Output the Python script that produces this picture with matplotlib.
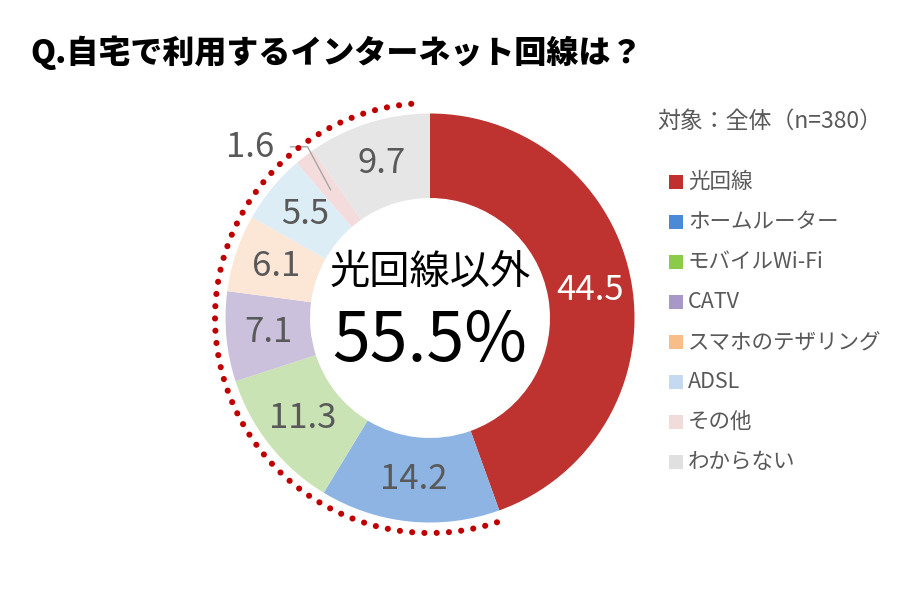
import matplotlib
matplotlib.use("Agg")
import matplotlib.pyplot as plt
import numpy as np
from matplotlib.patches import Rectangle

plt.rcParams["font.family"] = ["Noto Sans CJK JP", "DejaVu Sans"]

# Data
categories = ["光回線", "ホームルーター", "モバイルWi-Fi", "CATV",
              "スマホのテザリング", "ADSL", "その他", "わからない"]
values = [44.5, 14.2, 11.3, 7.1, 6.1, 5.5, 1.6, 9.7]
slice_colors = ["#BE3230", "#8DB4E2", "#C9E3B4", "#CBC1DC",
                "#FCE6D6", "#DCEDF6", "#F4DCDD", "#E6E6E6"]
legend_colors = ["#C0302E", "#4A8AD6", "#8CCB4A", "#A898C8",
                 "#F8BE8A", "#C5D9F1", "#F2DCDB", "#E0E0E0"]
label_colors = ["white"] + ["#595959"] * 7
title = "Q.自宅で利用するインターネット回線は？"
center_label = "光回線以外"
other_share = 100 - values[0]
subtitle = "対象：全体（n=380）"

W, H = 922, 600


def py(y):
    # pixel row (from top) -> data y
    return H - y


fig = plt.figure(figsize=(W / 100, H / 100), dpi=100)
ax = fig.add_axes([0, 0, 1, 1])

cx, cy = 430, py(318)
r_out, r_in = 204.5, 120

wedges, _ = ax.pie(values, colors=slice_colors, startangle=90, counterclock=False,
                   radius=r_out, center=(cx, cy),
                   wedgeprops=dict(width=r_out - r_in, linewidth=0))

ax.set_xlim(0, W)
ax.set_ylim(0, H)
ax.set_aspect("equal")
ax.axis("off")

# slice labels
r_mid = (r_out + r_in) / 2
for w, v, c in zip(wedges, values, label_colors):
    ang = np.deg2rad((w.theta1 + w.theta2) / 2)
    x = cx + r_mid * np.cos(ang)
    y = cy + r_mid * np.sin(ang)
    if v < 3:
        # small slice: label outside with leader line
        ax.plot([x, x - 23, x - 40], [y, y + 43, y + 43], color="#A6A6A6", lw=1)
        ax.text(x - 56, y + 42, f"{v:.1f}", ha="right", va="center",
                fontsize=25, color=c)
    else:
        ax.text(x, y, f"{v:.1f}", ha="center", va="center", fontsize=25, color=c)

# dotted arc over the non-光回線 share
r_dot = 215
th = np.deg2rad(np.linspace(95, 90 + 360 * other_share / 100, 400))
ax.plot(cx + r_dot * np.cos(th), cy + r_dot * np.sin(th), color="#C00000",
        lw=4.4, linestyle=(0, (0.01, 2.0)), dash_capstyle="round")

# center text
ax.text(cx, py(272), center_label, ha="center", va="center", fontsize=29, color="black")
ax.text(cx, py(342), f"{other_share:.1f}%", ha="center", va="center",
        fontsize=49, color="black")

# title
ax.text(30, py(53), title, ha="left", va="center", fontsize=23,
        fontweight="heavy", color="black")

# legend
ax.text(657, py(121), subtitle, ha="left", va="center", fontsize=16.5, color="#595959")
for i, (name, col) in enumerate(zip(categories, legend_colors)):
    yy = py(182 + 40 * i)
    ax.add_patch(Rectangle((669, yy - 7), 14, 14, facecolor=col, edgecolor="none"))
    ax.text(688, yy, name, ha="left", va="center", fontsize=15.5, color="#595959")

fig.savefig("out.png", dpi=100)
